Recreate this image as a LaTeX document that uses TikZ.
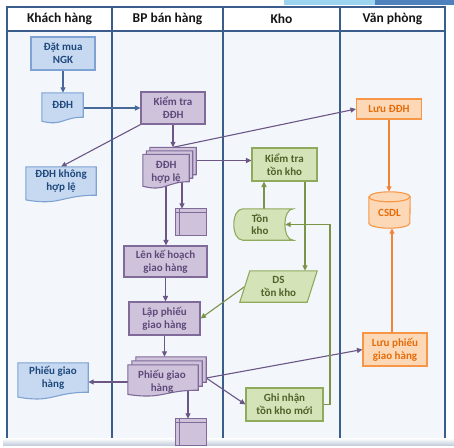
\documentclass[tikz,border=0pt]{standalone}
\usepackage{fontspec}
\setmainfont{Carlito}
\usetikzlibrary{arrows.meta}
\definecolor{laneline}{HTML}{3A5D8C}
\definecolor{lanebg}{HTML}{F3F7FC}
\definecolor{bfill}{HTML}{C6D9F1}
\definecolor{bdraw}{HTML}{7EA3D2}
\definecolor{btext}{HTML}{1F497D}
\definecolor{pfill}{HTML}{CFC3DC}
\definecolor{pdraw}{HTML}{7F6A99}
\definecolor{ptext}{HTML}{5F497A}
\definecolor{gfill}{HTML}{D5E3B9}
\definecolor{gdraw}{HTML}{8FAA5C}
\definecolor{gtext}{HTML}{4F6228}
\definecolor{ofill}{HTML}{FDD8B6}
\definecolor{odraw}{HTML}{F79646}
\definecolor{otext}{HTML}{E46C0A}
\definecolor{bline}{HTML}{46699A}
\definecolor{pline}{HTML}{6B5686}
\definecolor{gline}{HTML}{7B9448}
\definecolor{oline}{HTML}{F2843A}
\definecolor{hdrtext}{HTML}{151515}
\definecolor{decoA}{HTML}{9DD4F0}
\definecolor{decoB}{HTML}{4F81BD}
\pgfdeclarelayer{back}\pgfdeclarelayer{conn}\pgfdeclarelayer{mid}
\pgfsetlayers{back,conn,mid,main}
% document shape: node, dx, dy, rect height, style
\newcommand\docsh[5]{%
 \path[#5] ([xshift=#2,yshift=#3]#1.north west) -- ([xshift=#2,yshift=#3]#1.north east) -- ([xshift=#2,yshift=#3]#1.south east) .. controls ([xshift=#2,yshift=#3]#1.south) and ([xshift=#2,yshift=#3-0.384*#4]#1.south) .. ([xshift=#2,yshift=#3-0.1675*#4]#1.south west) -- cycle;}
\newcommand\storebox[2]{%
 \path[#2] (#1.north west) rectangle (#1.south east);
 \draw[#2] ([yshift=-3.5pt]#1.north west) -- ([yshift=-3.5pt]#1.north east);
 \draw[#2] ([xshift=4pt]#1.north west) -- ([xshift=4pt]#1.south west);}
\begin{document}
\begin{tikzpicture}[x=1pt,y=-1pt,
  lbl/.style={font=\bfseries\fontsize{11}{12.7}\selectfont, align=center, inner sep=0pt},
  hdr/.style={font=\bfseries\fontsize{13.5}{16}\selectfont, text=hdrtext, inner sep=0pt},
  sz/.style 2 args={minimum width=#1pt, minimum height=#2pt},
  rbox/.style={lbl, rectangle, draw, line width=1.1pt},
  bbox/.style={rbox, fill=bfill, draw=bdraw, text=btext},
  pbox/.style={rbox, fill=pfill, draw=pdraw, text=ptext},
  gbox/.style={rbox, fill=gfill, draw=gdraw, text=gtext},
  obox/.style={rbox, fill=ofill, draw=odraw, text=otext},
  bsh/.style={fill=bfill, draw=bdraw, line width=1.1pt},
  psh/.style={fill=pfill, draw=pdraw, line width=1.1pt},
  gsh/.style={fill=gfill, draw=gdraw, line width=1.1pt},
  osh/.style={fill=ofill, draw=odraw, line width=1.1pt},
  arr/.style={line width=1.1pt, -{Triangle[length=5.5pt,width=5pt]}},
  lane/.style={draw=laneline, line width=1.8pt}
]
\useasboundingbox (0,0) rectangle (454,447);

% ---------- background ----------
\begin{pgfonlayer}{back}
\fill[white] (0,0) rectangle (454,447);
\fill[decoA] (284,0) rectangle (375,4.5);
\fill[decoB] (375,0) rectangle (454,4.5);
\fill[lanebg] (7,31) rectangle (445,438);
\shade[top color=white!85!laneline!20, bottom color=laneline!30] (3,439) rectangle (454,445);
\draw[lane] (7,438) -- (7,7) -- (445,7) -- (445,438);
\draw[lane] (7,31) -- (445,31);
\draw[lane] (112,7) -- (112,438);
\draw[lane] (223,7) -- (223,438);
\draw[lane] (340,7) -- (340,438);
\end{pgfonlayer}

% ---------- headers ----------
\node[hdr] (h1) at (59.5,19) {Khách hàng};
\node[hdr] (h2) at (167.5,19) {BP bán hàng};
\node[hdr] (h3) at (281.5,19) {Kho};
\node[hdr] (h4) at (392.5,19) {Văn phòng};

% ---------- Khách hàng ----------
\node[bbox, sz={64}{33}] (datmua) at (63,53.5) {Đặt mua\\NGK};
\node[lbl, text=btext, sz={41}{24}] (ddh1) at (62.5,105) {ĐĐH};
\node[lbl, text=btext, sz={70}{28}] (ddhkhl) at (61,181) {ĐĐH không\\hợp lệ};
\node[lbl, text=btext, sz={70}{29}] (pgh1) at (53,377.5) {Phiếu giao\\hàng};

% ---------- BP bán hàng ----------
\node[pbox, sz={64}{32}] (ktddh) at (173,108) {Kiểm tra\\ĐĐH};
\node[lbl, sz={46}{27}] (hople) at (166,168) {};
\node[lbl, text=ptext] (hoplet) at (166,172.5) {ĐĐH\\hợp lệ};
\node[lbl, sz={30}{26}] (box1) at (191,222) {};
\node[pbox, sz={83}{31}] (lkh) at (165.5,261.5) {Lên kế hoạch\\giao hàng};
\node[pbox, sz={71}{33}] (lpgh) at (164.5,318.5) {Lập phiếu\\giao hàng};
\node[lbl, sz={70}{25}] (pghm) at (163,377.5) {};
\node[lbl, text=ptext] (pghmt) at (162,382) {Phiếu giao\\hàng};
\node[lbl, sz={30}{26}] (box2) at (191,432) {};

% ---------- Kho ----------
\node[gbox, sz={65}{33}] (kttk) at (284.5,164.5) {Kiểm tra\\tồn kho};
\node[lbl, text=gtext, sz={50}{31}] (tonkho) at (260,224.5) {Tồn\\kho};
\node[lbl, text=gtext, sz={77}{31}] (ds) at (278.5,286.5) {DS\\tồn kho};
\node[gbox, sz={77}{33}] (ghi) at (284.5,404.5) {Ghi nhận\\tồn kho mới};

% ---------- Văn phòng ----------
\node[obox, sz={65}{20}] (luuddh) at (389,109) {Lưu ĐĐH};
\node[lbl, sz={41}{36}] (csdl) at (389.5,210) {};
\node[lbl, text=otext] (csdlt) at (389.5,213) {CSDL};
\node[obox, sz={64}{33}] (lpghv) at (395,349.5) {Lưu phiếu\\giao hàng};

% ---------- shapes ----------
\begin{pgfonlayer}{mid}
\docsh{ddh1}{0pt}{0pt}{24pt}{bsh}
\docsh{ddhkhl}{0pt}{0pt}{28pt}{bsh}
\docsh{pgh1}{0pt}{0pt}{29pt}{bsh}
\docsh{hople}{7pt}{7pt}{27pt}{psh}
\docsh{hople}{3.5pt}{3.5pt}{27pt}{psh}
\docsh{hople}{0pt}{0pt}{27pt}{psh}
\docsh{pghm}{8pt}{8pt}{25pt}{psh}
\docsh{pghm}{4pt}{4pt}{25pt}{psh}
\docsh{pghm}{0pt}{0pt}{25pt}{psh}
\storebox{box1}{psh}
\storebox{box2}{psh}
\path[gsh] ([xshift=8pt]tonkho.north west) -- ([xshift=8pt]tonkho.north east)
  .. controls ([xshift=-3pt]tonkho.north east) and ([xshift=-3pt]tonkho.south east) .. ([xshift=8pt]tonkho.south east)
  -- ([xshift=8pt]tonkho.south west)
  .. controls ([xshift=-4pt]tonkho.south west) and ([xshift=-4pt]tonkho.north west) .. ([xshift=8pt]tonkho.north west) -- cycle;
\path[gsh] ([xshift=10pt]ds.north west) -- (ds.north east) -- ([xshift=-10pt]ds.south east) -- (ds.south west) -- cycle;
\path[osh] ([yshift=-5pt]csdl.north west) -- ([yshift=5pt]csdl.south west)
  arc[start angle=180, end angle=360, x radius=20.5pt, y radius=5pt]
  -- ([yshift=-5pt]csdl.north east)
  arc[start angle=0, end angle=180, x radius=20.5pt, y radius=5pt] -- cycle;
\draw[osh, fill=none] ([yshift=-5pt]csdl.north west) arc[start angle=180, end angle=360, x radius=20.5pt, y radius=5pt];
\end{pgfonlayer}

% ---------- helper coordinates ----------
\coordinate (ddh1-r) at ([yshift=-3pt]ddh1.east);
\coordinate (hople-top) at ([yshift=7pt]hople.north);
\coordinate (kt-tip) at (ktddh.south |- hople-top);
\coordinate (hople-r) at ([xshift=7pt,yshift=7.5pt]hople.east);
\coordinate (hople-b1) at ([xshift=16pt]hople.south);
\coordinate (pghm-top) at ([yshift=8pt]pghm.north);
\coordinate (pghm-l) at ([yshift=-4.5pt]pghm.west);
\coordinate (pghm-r) at ([xshift=8pt,yshift=-0.5pt]pghm.east);
\coordinate (pghm-b) at ([xshift=25pt]pghm.south);
\coordinate (ds-l) at ([xshift=5pt]ds.west);
\coordinate (tk-top) at ([xshift=4pt]tonkho.north);
\coordinate (tk-r) at (tonkho.east);
\coordinate (kt-b) at ([xshift=20.5pt]kttk.south);
\coordinate (gturn) at (330,300);
\coordinate (lp-top) at ([xshift=-3pt]lpghv.north);

% ---------- connectors ----------
\begin{pgfonlayer}{conn}
\draw[arr, bline] (datmua.south) -- (datmua.south |- ddh1.north);
\draw[arr, bline] (ddh1-r) -- (ddh1-r -| ktddh.west);
\draw[arr, pline] (ktddh.south west) -- (ddhkhl.north);
\draw[arr, pline] (ktddh.south) -- (kt-tip);
\draw[arr, pline] (kt-tip) -- (luuddh.west);
\draw[arr, pline] (hople-r) -- (hople-r -| kttk.west);
\draw[arr, pline] (hople-b1) -- (hople-b1 |- box1.north);
\draw[arr, pline] (hople.south) -- (hople.south |- lkh.north);
\draw[arr, pline] (lkh.south) -- (lkh.south |- lpgh.north);
\draw[arr, pline] (lpgh.south) -- (lpgh.south |- pghm-top);
\draw[arr, pline] (pghm-l) -- (pghm-l -| pgh1.east);
\draw[arr, pline] (pghm-r) -- (lpghv.west);
\draw[arr, pline] (pghm-r) -- (ghi.west);
\draw[arr, pline] (pghm-b) -- (pghm-b |- box2.north);
\draw[arr, gline] (ds-l) -- (lpgh.east);
\draw[arr, gline] (tk-top) -- (tk-top |- kttk.south);
\draw[arr, gline] (kt-b) -- (kt-b |- ds.north);
\draw[arr, gline] (ghi.east) -| (gturn |- tk-r) -- (tk-r);
\draw[arr, oline] (luuddh.south) -- (luuddh.south |- csdl.north);
\draw[arr, oline] (lp-top) -- (lp-top |- csdl.south);
\end{pgfonlayer}
\end{tikzpicture}
\end{document}
